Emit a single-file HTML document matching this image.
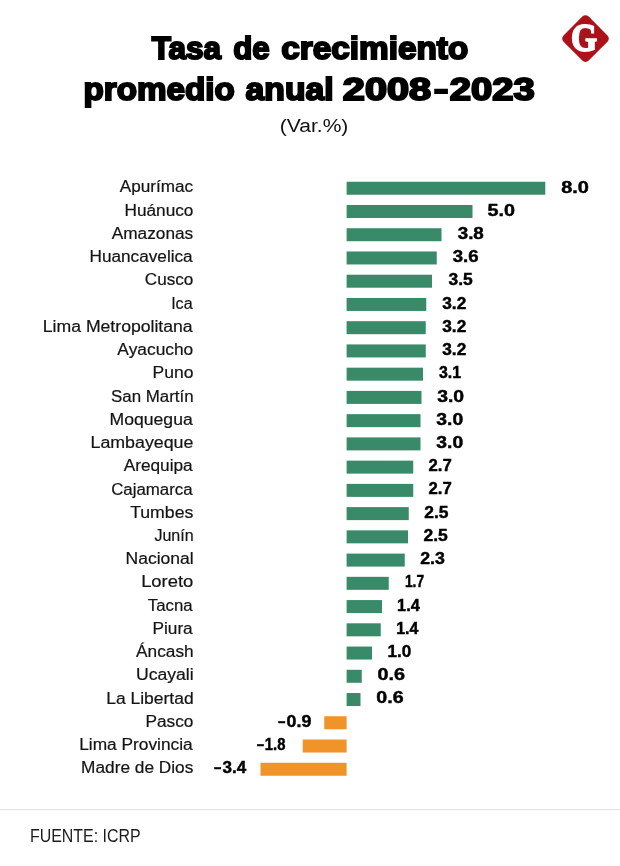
<!DOCTYPE html>
<html lang="es">
<head>
<meta charset="utf-8">
<title>Tasa de crecimiento promedio anual 2008–2023</title>
<style>
html,body{margin:0;padding:0;background:#fff;}
body{width:620px;height:866px;overflow:hidden;}
svg{display:block;}
text{font-family:"Liberation Sans",sans-serif;}
.t{font-weight:700;font-size:32.2px;fill:#000;stroke:#000;stroke-width:2px;stroke-linejoin:miter;stroke-miterlimit:3;}
.sub{font-size:19.2px;fill:#111;}
.lb{font-size:16px;fill:#141414;stroke:#141414;stroke-width:0.2px;}
.v{font-size:17.2px;font-weight:700;fill:#000;stroke:#000;stroke-width:0.45px;}
.src{font-size:17.6px;fill:#1c1c1c;}
.g{fill:#388a69;}
.o{fill:#f09329;}
</style>
</head>
<body>
<svg width="620" height="866" viewBox="0 0 620 866">
<rect x="0" y="0" width="620" height="866" fill="#ffffff"/>
<text class="t" y="58.7"><tspan x="151.68" textLength="69.33" lengthAdjust="spacingAndGlyphs">Tasa</tspan> <tspan x="233.14" textLength="36.49" lengthAdjust="spacingAndGlyphs">de</tspan> <tspan x="281.33" textLength="186.98" lengthAdjust="spacingAndGlyphs">crecimiento</tspan></text>
<text class="t" y="100.3"><tspan x="83.49" textLength="151.34" lengthAdjust="spacingAndGlyphs">promedio</tspan> <tspan x="245.62" textLength="87.95" lengthAdjust="spacingAndGlyphs">anual</tspan> <tspan x="342.85" textLength="88.3" lengthAdjust="spacingAndGlyphs">2008</tspan><tspan x="434.27" textLength="13.69" lengthAdjust="spacingAndGlyphs">–</tspan><tspan x="449.85" textLength="85.01" lengthAdjust="spacingAndGlyphs">2023</tspan></text>
<text class="sub" y="131.6"><tspan x="279.78" textLength="68.58" lengthAdjust="spacingAndGlyphs">(Var.%)</tspan></text>
<g transform="translate(585.5 38.6)">
<rect x="-17.8" y="-17.8" width="35.6" height="35.6" rx="4.5" ry="4.5" transform="rotate(45)" fill="#ad121b"/>
<text transform="translate(-1.5 12.3) scale(0.84 1.01)" x="0" y="0" text-anchor="middle" style="font-family:'Liberation Serif',serif;font-weight:700;font-size:40px;fill:#fff;stroke:#fff;stroke-width:1.8px">G</text>
</g>
<text class="lb" y="192.45"><tspan x="119.86" textLength="73.31" lengthAdjust="spacingAndGlyphs">Apurímac</tspan></text>
<rect class="g" x="346.6" y="181.75" width="198.7" height="13.0"/>
<text class="v" y="192.55"><tspan x="561.19" textLength="27.78" lengthAdjust="spacingAndGlyphs">8.0</tspan></text>
<text class="lb" y="215.69"><tspan x="124.48" textLength="68.95" lengthAdjust="spacingAndGlyphs">Huánuco</tspan></text>
<rect class="g" x="346.6" y="204.99" width="125.9" height="13.0"/>
<text class="v" y="215.77"><tspan x="487.62" textLength="27.43" lengthAdjust="spacingAndGlyphs">5.0</tspan></text>
<text class="lb" y="238.92"><tspan x="111.72" textLength="81.51" lengthAdjust="spacingAndGlyphs">Amazonas</tspan></text>
<rect class="g" x="346.6" y="228.23" width="94.9" height="13.0"/>
<text class="v" y="238.99"><tspan x="457.7" textLength="26.16" lengthAdjust="spacingAndGlyphs">3.8</tspan></text>
<text class="lb" y="262.15"><tspan x="89.51" textLength="103.17" lengthAdjust="spacingAndGlyphs">Huancavelica</tspan></text>
<rect class="g" x="346.6" y="251.47" width="90.15" height="13.0"/>
<text class="v" y="262.21"><tspan x="452.71" textLength="25.91" lengthAdjust="spacingAndGlyphs">3.6</tspan></text>
<text class="lb" y="285.39"><tspan x="144.75" textLength="48.59" lengthAdjust="spacingAndGlyphs">Cusco</tspan></text>
<rect class="g" x="346.6" y="274.71" width="85.4" height="13.0"/>
<text class="v" y="285.43"><tspan x="448.55" textLength="24.26" lengthAdjust="spacingAndGlyphs">3.5</tspan></text>
<text class="lb" y="308.62"><tspan x="171.16" textLength="21.4" lengthAdjust="spacingAndGlyphs">Ica</tspan></text>
<rect class="g" x="346.6" y="297.95" width="79.65" height="13.0"/>
<text class="v" y="308.66"><tspan x="442.24" textLength="24.05" lengthAdjust="spacingAndGlyphs">3.2</tspan></text>
<text class="lb" y="331.86"><tspan x="42.82" textLength="149.84" lengthAdjust="spacingAndGlyphs">Lima Metropolitana</tspan></text>
<rect class="g" x="346.6" y="321.19" width="79.15" height="13.0"/>
<text class="v" y="331.88"><tspan x="442.24" textLength="24.05" lengthAdjust="spacingAndGlyphs">3.2</tspan></text>
<text class="lb" y="355.09"><tspan x="117.38" textLength="75.88" lengthAdjust="spacingAndGlyphs">Ayacucho</tspan></text>
<rect class="g" x="346.6" y="344.43" width="79.15" height="13.0"/>
<text class="v" y="355.1"><tspan x="442.24" textLength="24.05" lengthAdjust="spacingAndGlyphs">3.2</tspan></text>
<text class="lb" y="378.33"><tspan x="152.57" textLength="40.87" lengthAdjust="spacingAndGlyphs">Puno</tspan></text>
<rect class="g" x="346.6" y="367.67" width="76.4" height="13.0"/>
<text class="v" y="378.32"><tspan x="438.88" textLength="22.12" lengthAdjust="spacingAndGlyphs">3.1</tspan></text>
<text class="lb" y="401.56"><tspan x="111.01" textLength="82.56" lengthAdjust="spacingAndGlyphs">San Martín</tspan></text>
<rect class="g" x="346.6" y="390.91" width="74.9" height="13.0"/>
<text class="v" y="401.54"><tspan x="437.15" textLength="26.94" lengthAdjust="spacingAndGlyphs">3.0</tspan></text>
<text class="lb" y="424.8"><tspan x="109.57" textLength="83.15" lengthAdjust="spacingAndGlyphs">Moquegua</tspan></text>
<rect class="g" x="346.6" y="414.15" width="73.9" height="13.0"/>
<text class="v" y="424.76"><tspan x="436.31" textLength="26.86" lengthAdjust="spacingAndGlyphs">3.0</tspan></text>
<text class="lb" y="448.03"><tspan x="90.51" textLength="102.9" lengthAdjust="spacingAndGlyphs">Lambayeque</tspan></text>
<rect class="g" x="346.6" y="437.39" width="73.9" height="13.0"/>
<text class="v" y="447.98"><tspan x="436.31" textLength="26.86" lengthAdjust="spacingAndGlyphs">3.0</tspan></text>
<text class="lb" y="471.27"><tspan x="123.73" textLength="68.98" lengthAdjust="spacingAndGlyphs">Arequipa</tspan></text>
<rect class="g" x="346.6" y="460.63" width="66.65" height="13.0"/>
<text class="v" y="471.2"><tspan x="428.58" textLength="23.25" lengthAdjust="spacingAndGlyphs">2.7</tspan></text>
<text class="lb" y="494.5"><tspan x="111.15" textLength="81.52" lengthAdjust="spacingAndGlyphs">Cajamarca</tspan></text>
<rect class="g" x="346.6" y="483.87" width="66.65" height="13.0"/>
<text class="v" y="494.42"><tspan x="428.58" textLength="23.25" lengthAdjust="spacingAndGlyphs">2.7</tspan></text>
<text class="lb" y="517.74"><tspan x="130.15" textLength="63.16" lengthAdjust="spacingAndGlyphs">Tumbes</tspan></text>
<rect class="g" x="346.6" y="507.11" width="62.15" height="13.0"/>
<text class="v" y="517.64"><tspan x="424.28" textLength="24.23" lengthAdjust="spacingAndGlyphs">2.5</tspan></text>
<text class="lb" y="540.97"><tspan x="154.43" textLength="39.23" lengthAdjust="spacingAndGlyphs">Junín</tspan></text>
<rect class="g" x="346.6" y="530.35" width="61.4" height="13.0"/>
<text class="v" y="540.87"><tspan x="423.42" textLength="24.36" lengthAdjust="spacingAndGlyphs">2.5</tspan></text>
<text class="lb" y="564.21"><tspan x="125.57" textLength="68.2" lengthAdjust="spacingAndGlyphs">Nacional</tspan></text>
<rect class="g" x="346.6" y="553.59" width="58.15" height="13.0"/>
<text class="v" y="564.09"><tspan x="420.26" textLength="24.69" lengthAdjust="spacingAndGlyphs">2.3</tspan></text>
<text class="lb" y="587.44"><tspan x="141.15" textLength="52.19" lengthAdjust="spacingAndGlyphs">Loreto</tspan></text>
<rect class="g" x="346.6" y="576.83" width="42.15" height="13.0"/>
<text class="v" y="587.31"><tspan x="404.95" textLength="19.17" lengthAdjust="spacingAndGlyphs">1.7</tspan></text>
<text class="lb" y="610.68"><tspan x="147.85" textLength="44.8" lengthAdjust="spacingAndGlyphs">Tacna</tspan></text>
<rect class="g" x="346.6" y="600.07" width="35.4" height="13.0"/>
<text class="v" y="610.53"><tspan x="397.12" textLength="22.68" lengthAdjust="spacingAndGlyphs">1.4</tspan></text>
<text class="lb" y="633.91"><tspan x="152.48" textLength="40.24" lengthAdjust="spacingAndGlyphs">Piura</tspan></text>
<rect class="g" x="346.6" y="623.31" width="34.15" height="13.0"/>
<text class="v" y="633.75"><tspan x="396.22" textLength="22.14" lengthAdjust="spacingAndGlyphs">1.4</tspan></text>
<text class="lb" y="657.15"><tspan x="136.09" textLength="57.54" lengthAdjust="spacingAndGlyphs">Áncash</tspan></text>
<rect class="g" x="346.6" y="646.55" width="25.4" height="13.0"/>
<text class="v" y="656.97"><tspan x="387.46" textLength="23.82" lengthAdjust="spacingAndGlyphs">1.0</tspan></text>
<text class="lb" y="680.38"><tspan x="135.91" textLength="57.81" lengthAdjust="spacingAndGlyphs">Ucayali</tspan></text>
<rect class="g" x="346.6" y="669.79" width="15.15" height="13.0"/>
<text class="v" y="680.19"><tspan x="377.41" textLength="27.57" lengthAdjust="spacingAndGlyphs">0.6</tspan></text>
<text class="lb" y="703.62"><tspan x="106.22" textLength="87.41" lengthAdjust="spacingAndGlyphs">La Libertad</tspan></text>
<rect class="g" x="346.6" y="693.03" width="13.9" height="13.0"/>
<text class="v" y="703.41"><tspan x="376.38" textLength="27.27" lengthAdjust="spacingAndGlyphs">0.6</tspan></text>
<text class="lb" y="726.86"><tspan x="145.48" textLength="47.85" lengthAdjust="spacingAndGlyphs">Pasco</tspan></text>
<rect class="o" x="324.25" y="716.27" width="22.35" height="13.0"/>
<text class="v" y="726.63"><tspan x="277.91" textLength="7.42" lengthAdjust="spacingAndGlyphs">–</tspan><tspan x="286.58" textLength="24.75" lengthAdjust="spacingAndGlyphs">0.9</tspan></text>
<text class="lb" y="750.09"><tspan x="79.25" textLength="113.4" lengthAdjust="spacingAndGlyphs">Lima Provincia</tspan></text>
<rect class="o" x="302.75" y="739.51" width="43.85" height="13.0"/>
<text class="v" y="749.85"><tspan x="256.67" textLength="7.35" lengthAdjust="spacingAndGlyphs">–</tspan><tspan x="264.77" textLength="20.62" lengthAdjust="spacingAndGlyphs">1.8</tspan></text>
<text class="lb" y="773.33"><tspan x="81.1" textLength="112.19" lengthAdjust="spacingAndGlyphs">Madre de Dios</tspan></text>
<rect class="o" x="260.5" y="762.75" width="86.1" height="13.0"/>
<text class="v" y="773.08"><tspan x="213.98" textLength="7.31" lengthAdjust="spacingAndGlyphs">–</tspan><tspan x="222.43" textLength="23.72" lengthAdjust="spacingAndGlyphs">3.4</tspan></text>
<rect x="0" y="809.1" width="620" height="1.1" fill="#e0e0e0"/>
<text class="src" y="841.8"><tspan x="29.94" textLength="110.78" lengthAdjust="spacingAndGlyphs">FUENTE: ICRP</tspan></text>
</svg>
</body>
</html>
